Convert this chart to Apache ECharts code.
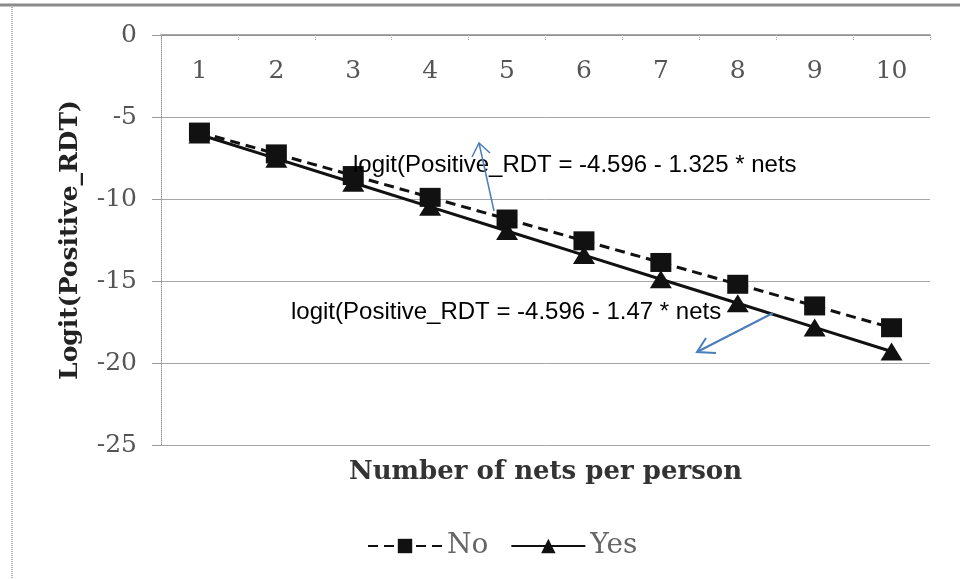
<!DOCTYPE html>
<html>
<head>
<meta charset="utf-8">
<script src="https://cdn.jsdelivr.net/npm/echarts@6/dist/echarts.min.js"></script>
<style>html,body{margin:0;padding:0;background:#fff}#c{width:960px;height:579px}</style>
</head>
<body>
<div id="c"></div>
<script>
var categories = ['1','2','3','4','5','6','7','8','9','10'];
var noValues = [-5.92, -7.25, -8.57, -9.90, -11.22, -12.55, -13.87, -15.20, -16.52, -17.85];
var yesValues = [-6.07, -7.54, -9.01, -10.48, -11.95, -13.42, -14.89, -16.36, -17.83, -19.30];
var seriesNames = ['No', 'Yes'];
var yTicks = {min: -25, max: 0, interval: 5};
var annotationTexts = ['logit(Positive_RDT = -4.596 - 1.325 * nets', 'logit(Positive_RDT = -4.596 - 1.47 * nets'];

var serif = '"DejaVu Serif", serif';
var chart = echarts.init(document.getElementById('c'), null, {renderer: 'canvas'});
var blue = '#4a7ebb';
chart.setOption({
  animation: false,
  backgroundColor: '#fff',
  grid: {left: 161, right: 30, top: 35, bottom: 134},
  xAxis: {
    type: 'category',
    data: categories,
    position: 'top',
    boundaryGap: true,
    name: 'Number of nets per person',
    nameLocation: 'middle',
    nameGap: -450,
    nameTextStyle: {fontFamily: serif, fontWeight: 'bold', fontSize: 26, color: '#333'},
    axisLine: {onZero: false, lineStyle: {color: '#8c8c8c', width: 1.5}},
    axisTick: {show: true, inside: true, length: 6, alignWithLabel: false, lineStyle: {color: '#aaa', type: 'dotted'}},
    axisLabel: {inside: true, margin: 24, fontFamily: serif, fontSize: 25, color: '#555'},
    splitLine: {show: false}
  },
  yAxis: {
    type: 'value',
    min: yTicks.min, max: yTicks.max, interval: yTicks.interval,
    name: 'Logit(Positive_RDT)',
    nameLocation: 'middle',
    nameGap: 78,
    nameRotate: 90,
    nameTextStyle: {fontFamily: serif, fontWeight: 'bold', fontSize: 25, color: '#222', padding: [0, 0, 0, 0]},
    axisLine: {show: true, lineStyle: {color: '#999', type: 'dotted', width: 1}},
    axisTick: {show: true, inside: false, length: 9, lineStyle: {color: '#999'}},
    axisLabel: {margin: 24, fontFamily: serif, fontSize: 25, color: '#555'},
    splitLine: {show: true, lineStyle: {color: '#a6a6a6', width: 1}}
  },
  legend: {
    bottom: 14,
    left: 362,
    itemWidth: 74,
    itemHeight: 18,
    itemGap: 22,
    textStyle: {fontFamily: serif, fontSize: 28, color: '#666'},
    data: seriesNames
  },
  series: [
    {
      name: seriesNames[0], type: 'line', data: noValues,
      symbol: 'rect', symbolSize: [21, 19],
      itemStyle: {color: '#111'},
      lineStyle: {color: '#111', width: 3, type: [10, 6]},
      z: 3
    },
    {
      name: seriesNames[1], type: 'line', data: yesValues,
      symbol: 'triangle', symbolSize: [22, 18],
      itemStyle: {color: '#111'},
      lineStyle: {color: '#111', width: 3},
      z: 2
    }
  ],
  graphic: [
    {type: 'line', shape: {x1: 0, y1: 5, x2: 960, y2: 5}, style: {stroke: '#8a8a8a', lineWidth: 3}},
    {type: 'line', shape: {x1: 12, y1: 5, x2: 12, y2: 579}, style: {stroke: '#999', lineWidth: 1.5, lineDash: [1, 1]}},
    {type: 'text', left: 353, top: 153, z: 10, style: {text: annotationTexts[0], font: '24px "Liberation Sans", Arial, sans-serif', fill: '#000'}},
    {type: 'text', left: 291, top: 300, z: 10, style: {text: annotationTexts[1], font: '24px "Liberation Sans", Arial, sans-serif', fill: '#000'}},
    {type: 'line', z: 10, shape: {x1: 494, y1: 211, x2: 479, y2: 143}, style: {stroke: blue, lineWidth: 1.5}},
    {type: 'polyline', z: 10, shape: {points: [[472, 157], [479, 143], [490, 153]]}, style: {stroke: blue, lineWidth: 1.5, fill: null}},
    {type: 'line', z: 10, shape: {x1: 773, y1: 313, x2: 697, y2: 352}, style: {stroke: blue, lineWidth: 2}},
    {type: 'polyline', z: 10, shape: {points: [[706, 338], [697, 352], [716, 353]]}, style: {stroke: blue, lineWidth: 2, fill: null}}
  ]
});
</script>
</body>
</html>
